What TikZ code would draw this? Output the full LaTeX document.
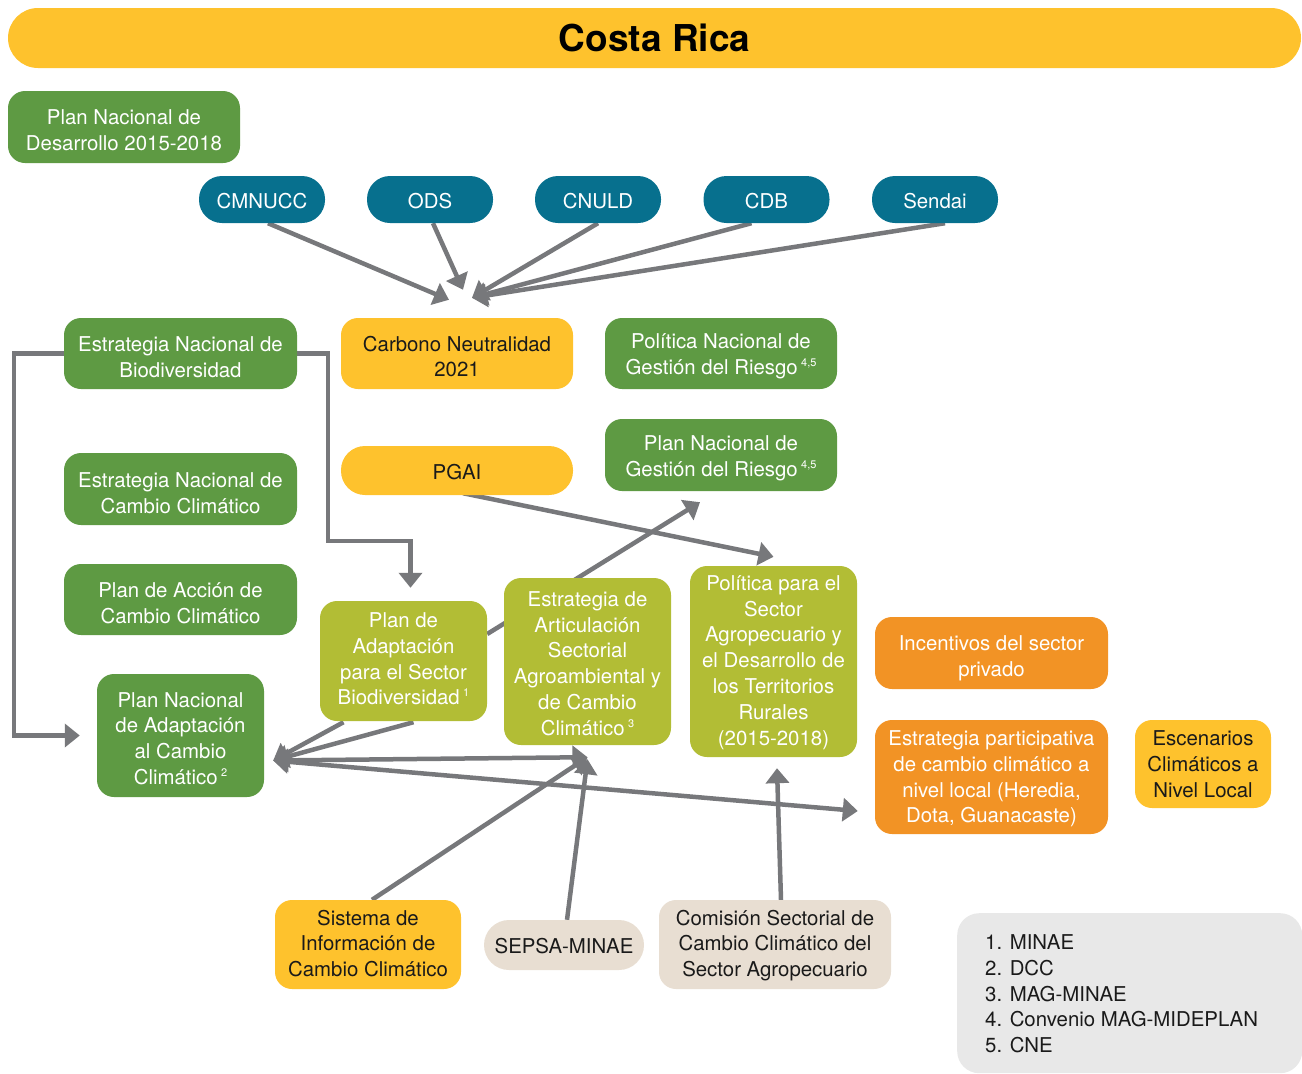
\documentclass[tikz,border=0pt]{standalone}
\usepackage{fontspec}
\setmainfont{TeX Gyre Heros}
\usetikzlibrary{arrows.meta,calc,backgrounds}

\definecolor{cryellow}{HTML}{FEC22D}
\definecolor{crgreen}{HTML}{5E9A43}
\definecolor{crteal}{HTML}{07708E}
\definecolor{crlime}{HTML}{B2BD35}
\definecolor{crorange}{HTML}{F29325}
\definecolor{crbeige}{HTML}{E8DED2}
\definecolor{crlight}{HTML}{E8E8E8}
\definecolor{crgray}{HTML}{77787B}
\definecolor{crink}{HTML}{1A1A1A}

\newcommand\bodyfont{\fontsize{20.4}{25.8}\selectfont}
\newcommand\supmark[1]{\,\raisebox{8pt}{\fontsize{11}{11}\selectfont #1}}

\tikzset{
  box/.style={rounded corners=17pt, inner sep=0pt},
  sz/.style 2 args={minimum width=#1pt, minimum height=#2pt},
  greenbox/.style={box, fill=crgreen},
  tealbox/.style={box, fill=crteal, rounded corners=23pt, sz={126}{47}},
  yellowbox/.style={box, fill=cryellow},
  limebox/.style={box, fill=crlime},
  orangebox/.style={box, fill=crorange},
  beigebox/.style={box, fill=crbeige},
  lbl/.style={inner sep=0pt, align=center, font=\bodyfont, text=white},
  lbldark/.style={lbl, text=crink},
  arr/.style={draw=crgray, line width=4.5pt, -{Triangle[length=15pt,width=23pt]}},
  dblarr/.style={draw=crgray, line width=4.5pt, {Triangle[length=15pt,width=23pt]}-{Triangle[length=15pt,width=23pt]}}
}

\begin{document}
\begin{tikzpicture}[x=1pt,y=-1pt]
\useasboundingbox (0,0) rectangle (1302,1074);

% title bar
\node[fill=cryellow, rounded corners=30pt, sz={1293}{60}, inner sep=0pt,
      font=\fontsize{37}{40}\selectfont\bfseries, text=black] (title) at (654.5,38) {Costa Rica};

% national plans and strategies
\node[greenbox, sz={232}{72}] (pnd) at (124,127) {};
\node[lbl] (pndt) at ($(pnd)+(0,3)$) {Plan Nacional de\\Desarrollo 2015-2018};
\node[greenbox, sz={233}{71}] (enb) at (180.5,353.5) {};
\node[lbl] (enbt) at ($(enb)+(0,4)$) {Estrategia Nacional de\\Biodiversidad};
\node[greenbox, sz={233}{72}] (encc) at (180.5,489) {};
\node[lbl] (encct) at ($(encc)+(0,4)$) {Estrategia Nacional de\\Cambio Climático};
\node[greenbox, sz={233}{71}] (pacc) at (180.5,599.5) {};
\node[lbl] (pacct) at ($(pacc)+(0,4)$) {Plan de Acción de\\Cambio Climático};
\node[greenbox, sz={167}{123}] (pnacc) at (180.5,735.5) {};
\node[lbl] (pnacct) at ($(pnacc)+(0,3)$) {Plan Nacional\\de Adaptación\\al Cambio\\Climático\supmark{2}};
\node[greenbox, sz={232}{71}] (pngr) at (721,353.5) {};
\node[lbl] (pngrt) at ($(pngr)+(0,3)$) {Política Nacional de\\Gestión del Riesgo\supmark{4,5}};
\node[greenbox, sz={232}{72}] (plngr) at (721,455) {};
\node[lbl] (plngrt) at ($(plngr)+(0,3.5)$) {Plan Nacional de\\Gestión del Riesgo\supmark{4,5}};

% international frameworks
\node[tealbox] (cmnucc) at (262,199.5) {};
\node[lbl] (cmnucct) at ($(cmnucc)+(0,2)$) {CMNUCC};
\node[tealbox] (ods) at (430,199.5) {};
\node[lbl] (odst) at ($(ods)+(0,2)$) {ODS};
\node[tealbox] (cnuld) at (598,199.5) {};
\node[lbl] (cnuldt) at ($(cnuld)+(0,2)$) {CNULD};
\node[tealbox] (cdb) at (766.5,199.5) {};
\node[lbl] (cdbt) at ($(cdb)+(0,2)$) {CDB};
\node[tealbox] (sendai) at (935,199.5) {};
\node[lbl] (sendait) at ($(sendai)+(0,2)$) {Sendai};

% yellow items
\node[yellowbox, sz={232}{71}] (cn) at (457,353.5) {};
\node[lbldark] (cnt) at ($(cn)+(0,3)$) {Carbono Neutralidad\\2021};
\node[yellowbox, sz={232}{49}, rounded corners=24pt] (pgai) at (457,470.5) {};
\node[lbldark] (pgait) at ($(pgai)+(0,2)$) {PGAI};
\node[yellowbox, sz={136}{88}] (esc) at (1203,764) {};
\node[lbldark] (esct) at (esc) {Escenarios\\Climáticos a\\Nivel Local};
\node[yellowbox, sz={186}{89}] (sicc) at (368,944.5) {};
\node[lbldark] (sicct) at ($(sicc)+(0,-1)$) {Sistema de\\Información de\\Cambio Climático};

% sectoral instruments
\node[limebox, sz={167}{120}] (pasb) at (403.5,661) {};
\node[lbl] (pasbt) at ($(pasb)+(0,-2)$) {Plan de\\Adaptación\\para el Sector\\Biodiversidad\supmark{1}};
\node[limebox, sz={167}{167}] (easac) at (587.5,661.5) {};
\node[lbl] (easact) at ($(easac)+(0,2)$) {Estrategia de\\Articulación\\Sectorial\\Agroambiental y\\de Cambio\\Climático\supmark{3}};
\node[limebox, sz={167}{191}] (psa) at (773.5,661.5) {};
\node[lbl] (psat) at ($(psa)+(0,1)$) {Política para el\\Sector\\Agropecuario y\\el Desarrollo de\\los Territorios\\Rurales\\(2015-2018)};

% local and private
\node[orangebox, sz={233}{72}] (inc) at (991.5,653) {};
\node[lbl] (inct) at ($(inc)+(0,5)$) {Incentivos del sector\\privado};
\node[orangebox, sz={233}{114}] (epart) at (991.5,777) {};
\node[lbl] (epartt) at ($(epart)+(0,2)$) {Estrategia participativa\\de cambio climático a\\nivel local (Heredia,\\Dota, Guanacaste)};

% institutions
\node[beigebox, sz={160}{50}, rounded corners=25pt] (sepsa) at (564,945) {};
\node[lbldark] (sepsat) at ($(sepsa)+(0,1)$) {SEPSA-MINAE};
\node[beigebox, sz={232}{89}] (csca) at (775,944.5) {};
\node[lbldark] (cscat) at ($(csca)+(0,1)$) {Comisión Sectorial de\\Cambio Climático del\\Sector Agropecuario};

% legend
\node[fill=crlight, rounded corners=22pt, sz={345}{160}, inner sep=0pt, anchor=north west] (legend) at (957,913) {};
\node[anchor=north west, align=left, inner sep=0pt, font=\bodyfont, text=crink] (legtext) at (985,934.5)
  {1. MINAE\\2. DCC\\3. MAG-MINAE\\4. Convenio MAG-MIDEPLAN\\5. CNE};

% arrow end points
\coordinate (cnA) at ($(cn.north)+(-8,-18)$);
\coordinate (cnB) at ($(cn.north)+(6,-28)$);
\coordinate (cnC) at ($(cn.north)+(15,-20)$);
\coordinate (pnaccR) at ($(pnacc.east)+(9,25)$);
\coordinate (easacB) at ($(easac.south)+(0,12)$);

\begin{scope}[on background layer]
  % frameworks into carbon neutrality
  \draw[arr] ([xshift=6pt]cmnucc.south) -- (cnA);
  \draw[arr] ([xshift=3pt]ods.south) -- (cnB);
  \draw[arr] (cnuld.south) -- (cnC);
  \draw[arr] ([xshift=-15pt]cdb.south) -- (cnC);
  \draw[arr] ([xshift=10pt]sendai.south) -- (cnC);

  % biodiversity strategy links
  \draw[arr] (enb.west) -- ++(-50,0) |- ($(pnacc.west)+(-17,0)$);
  \draw[arr] (enb.east) -- ++(31,0) -- ++(0,187.5) -| ($(pasb.north)+(7,-13)$);

  % PGAI to agricultural policy
  \draw[arr] ($(pgai.south)+(6,-2)$) -- ($(psa.north)+(0,-9)$);

  % sector plan to risk management plan
  \draw[arr] ($(pasb.east)+(0,-27)$) -- ($(plngr.south)+(-21,11)$);

  % links around the national adaptation plan
  \draw[arr] ($(pasb.south)+(-60,1)$) -- (pnaccR);
  \draw[arr] ($(pasb.south)+(10,1)$) -- (pnaccR);
  \draw[dblarr] (pnaccR) -- (easacB);
  \draw[dblarr] (pnaccR) -- ($(epart.west)+(-17,34)$);

  % supporting institutions
  \draw[arr] ($(sicc.north)+(4,0)$) -- (easacB);
  \draw[arr] ($(sepsa.north)+(3,0)$) -- ($(easacB)+(0,2)$);
  \draw[arr] ($(csca.north)+(6,0)$) -- ($(psa.south)+(3.5,11)$);
\end{scope}
\end{tikzpicture}
\end{document}
